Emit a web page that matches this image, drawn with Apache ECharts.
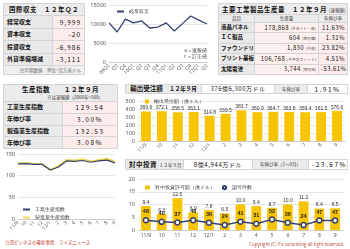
<!DOCTYPE html>
<html>
<head>
<meta charset="utf-8">
<script src="https://cdn.jsdelivr.net/npm/echarts@6/dist/echarts.min.js"></script>
<style>
  body { margin: 0; width: 350px; height: 249px; background: #fff; position: relative; overflow: hidden;
         font-family: "Noto Sans CJK JP", sans-serif; color: #111; }
  .box { position: absolute; }
  table { border-collapse: collapse; width: 100%; height: 100%; table-layout: fixed; }
  td { border: 1px solid #d4d4d4; padding: 0 3px; font-size: 6px; white-space: nowrap; overflow: hidden; line-height: 1; }
  .ttl { background: #ebebeb; font-weight: bold; text-align: center; font-size: 6.5px; letter-spacing: 0.5px; }
  .lbl { background: #e9e9e9; font-weight: bold; }
  .val { background: #fcecec; text-align: right; letter-spacing: 1px; font-size: 6.5px; }
  .sub { font-size: 4.5px; font-weight: normal; letter-spacing: 0; color: #333; }
  .note { background: #efefef; text-align: right; font-size: 4.5px; color: #666; }
  .chart { position: absolute; }
  .foot { position: absolute; font-size: 4.5px; color: #c0392b; white-space: nowrap; }
  #prodTable .val { letter-spacing: 0.4px; font-size: 6px; padding: 0 2px; }
</style>
</head>
<body>

<div class="box" style="left:3px;top:3px;width:82px;height:72px"><table id="bopTable"></table></div>
<div id="bopChart" class="chart" style="left:86px;top:0;width:130px;height:82px"></div>
<div class="box" style="left:218px;top:3px;width:130px;height:72px"><table id="prodTable"></table></div>
<div class="box" style="left:3px;top:84px;width:115px;height:65px"><table id="idxTable"></table></div>
<div id="idxChart" class="chart" style="left:0;top:148px;width:120px;height:90px"></div>
<div class="box" style="left:125px;top:84px;width:223px;height:10px"><table id="exportHead"></table></div>
<div id="exportChart" class="chart" style="left:120px;top:94px;width:230px;height:62px"></div>
<div class="box" style="left:125px;top:159px;width:223px;height:11px"><table id="investHead"></table></div>
<div id="investChart" class="chart" style="left:120px;top:171px;width:230px;height:78px"></div>
<div class="foot" style="left:5px;top:239px">台湾ビジネスの最新事情　ワイズニュース</div>
<div class="foot" style="right:6px;top:241px;color:#b5473a">Copyright (C) Y's consulting all right reserved.</div>

<script>
// 国際収支 table
const bopLabels = ['経常収支', '資本収支', '投資収支', '外貨準備増減'];
const bopValues = ['9,999', '-20', '-6,986', '-3,111'];

// 経常収支 by quarter
const bopQuarters = ['09Q2', 'Q3', 'Q4', '10Q1', 'Q2', 'Q3', 'Q4', '11Q1', 'Q2', 'Q3', 'Q4', '12Q1', 'Q2'];
const currentAccount = [10300, 7900, 11300, 10300, 10800, 8950, 9200, 10300, 8150, 10100, 12100, 11000, 9999];

// 主要工業製品生産量
const prodItems = ['液晶パネル', 'ＩＣ製品', 'ファウンドリー', 'プリント基板', '太陽電池'];
const prodVolumes = ['178,868', '604', '1,830', '106,768', '3,744'];
const prodUnits = ['(千セット・枚)', '(百万個)', '(千枚)', '(千平方フィート)', '(百万W)'];
const prodGrowth = ['11.63%', '1.31%', '23.82%', '4.51%', '-53.61%'];

// 生産指数
const idxLabels = ['工業生産指数', '年伸び率', '製造業生産指数', '年伸び率'];
const idxValues = ['129.54', '3.00%', '132.53', '3.08%'];

const months = ['11/9', '10', '11', '12', '12/1', '2', '3', '4', '5', '6', '7', '8', '9'];
const industrialIdx = [127, 128, 126, 126, 113, 120, 134, 133, 135, 131, 134, 136, 129.54];
const manufacturingIdx = [128, 130, 127, 127, 113, 122, 136, 135, 138, 133, 136, 139, 132.53];

// 輸出受注額 (億ドル)
const exportOrders = [369.6, 372.1, 358.5, 363.1, 314.8, 339.5, 383.7, 360.9, 364.7, 363.8, 359.4, 361.5, 376.6];

// 対中投資
const investAmount = [9.4, 6.3, 12.5, 6.9, 7.8, 6.5, 10.0, 9.4, 8.7, 10.0, 11.2, 8.4, 8.5];
const investCount = [48, 40, 37, 48, 36, 24, 41, 31, 52, 36, 24, 47, 47];

const navy = '#34406e';
const gold = '#f6c400';

// ---- tables ----
function rowsHtml(labels, values) {
  return labels.map((l, i) => `<tr><td class="lbl">${l}</td><td class="val">${values[i]}</td></tr>`).join('');
}

document.getElementById('bopTable').innerHTML =
  '<colgroup><col style="width:49px"><col></colgroup>' +
  '<tr style="height:12px"><td class="ttl" colspan="2">国際収支　１２年Ｑ２</td></tr>' +
  rowsHtml(bopLabels, bopValues) +
  '<tr style="height:9px"><td class="note" colspan="2">四半期数値　単位=百万米ドル</td></tr>';

document.getElementById('prodTable').innerHTML =
  '<colgroup><col style="width:36px"><col style="width:64px"><col></colgroup>' +
  '<tr style="height:11px"><td class="ttl" colspan="3">主要工業製品生産量　１２年９月 <span class="sub">(速報値)</span></td></tr>' +
  '<tr style="height:8px"><td class="ttl sub">品目</td><td class="ttl sub">生産量</td><td class="ttl sub">年伸び率</td></tr>' +
  prodItems.map((p, i) =>
    `<tr><td class="lbl" style="font-size:5.5px;padding:0 2px">${p}</td>` +
    `<td class="val" style="background:#fff0f0">${prodVolumes[i]} <span class="sub" style="font-size:3.8px">${prodUnits[i]}</span></td>` +
    `<td class="val">${prodGrowth[i]}</td></tr>`).join('');

document.getElementById('idxTable').innerHTML =
  '<colgroup><col style="width:59px"><col></colgroup>' +
  '<tr style="height:9px"><td class="ttl" colspan="2" style="border-bottom:none">生産指数　　１２年９月</td></tr>' +
  '<tr style="height:8px"><td class="ttl sub" colspan="2" style="border-top:none;text-align:right;padding-right:14px">※は速報値（2006年=100）</td></tr>' +
  idxLabels.map((l, i) => `<tr><td class="lbl">${l}</td><td class="val" style="text-align:center;letter-spacing:1.5px">${idxValues[i]}</td></tr>`).join('');

document.getElementById('exportHead').innerHTML =
  '<colgroup><col style="width:76px"><col style="width:73px"><col style="width:33px"><col></colgroup>' +
  '<tr><td class="ttl" style="letter-spacing:0;padding:0 1px">輸出受注額　<span style="font-size:5.5px">１２年９月</span></td>' +
  '<td class="val" style="text-align:center;background:#fff;letter-spacing:0.5px;font-size:6px;padding:0 1px">376億6,300万ドル</td>' +
  '<td class="ttl sub">年伸び率</td><td class="val" style="text-align:center;background:#fff;letter-spacing:1.5px">1.91%</td></tr>';

document.getElementById('investHead').innerHTML =
  '<colgroup><col style="width:58px"><col style="width:69px"><col style="width:56px"><col></colgroup>' +
  '<tr><td class="ttl">対中投資 <span class="sub">１２年９月</span></td>' +
  '<td class="val" style="text-align:center;background:#fff;letter-spacing:0.6px;font-size:6px;padding:0 1px">8億4,944万ドル</td>' +
  '<td class="ttl sub">年伸び率（1～9月）</td><td class="val" style="text-align:center;background:#fff;letter-spacing:1.5px">-23.67%</td></tr>';

// ---- charts ----
const axisLabelStyle = { fontSize: 5.5, color: '#555', fontFamily: 'Noto Sans' };
const splitStyle = { lineStyle: { color: '#e6e6e6', width: 1 } };

const bopChart = echarts.init(document.getElementById('bopChart'));
bopChart.setOption({
  animation: false,
  grid: { left: 23, right: 9, top: 5, bottom: 20 },
  legend: {
    data: ['経常収支'], left: 26, top: 4, itemWidth: 7, itemHeight: 2, itemGap: 2,
    icon: 'rect', textStyle: { fontSize: 4.5, color: '#333' },
  },
  xAxis: {
    type: 'category', boundaryGap: false, data: bopQuarters,
    axisLabel: { ...axisLabelStyle, fontSize: 5, rotate: 45, interval: 0, margin: 3 },
    axisLine: { lineStyle: { color: '#ccc' } }, axisTick: { show: false },
  },
  yAxis: {
    type: 'value', min: 0, max: 15000, interval: 5000,
    axisLabel: { ...axisLabelStyle, margin: 3, formatter: v => String(v) }, splitLine: splitStyle,
  },
  series: [{
    name: '経常収支', type: 'line', data: currentAccount, symbol: 'none',
    lineStyle: { color: navy, width: 1.3 }, itemStyle: { color: navy },
  }],
  graphic: [
    { type: 'text', right: 9, top: 48, style: { text: 'o＝速報値', fontSize: 4.5, fill: '#333' } },
    { type: 'text', right: 9, top: 54, style: { text: 'r ＝訂正値', fontSize: 4.5, fill: '#333' } },
  ],
});

const idxChart = echarts.init(document.getElementById('idxChart'));
idxChart.setOption({
  animation: false,
  grid: { left: 18, right: 5, top: 6, bottom: 19 },
  legend: {
    orient: 'vertical', left: 18, top: 54, itemWidth: 7, itemHeight: 2, itemGap: 3, icon: 'rect',
    textStyle: { fontSize: 5, color: '#333' }, data: ['工業生産指数', '製造業生産指数'],
  },
  xAxis: {
    type: 'category', boundaryGap: false, data: months,
    axisLabel: { ...axisLabelStyle, fontSize: 5, rotate: 45, interval: 0, margin: 3 },
    axisLine: { lineStyle: { color: '#ccc' } }, axisTick: { show: false },
  },
  yAxis: {
    type: 'value', min: 0, max: 150, interval: 50,
    axisLabel: { ...axisLabelStyle, margin: 3 }, splitLine: splitStyle,
  },
  series: [
    { name: '製造業生産指数', type: 'line', data: manufacturingIdx, symbol: 'none',
      lineStyle: { color: '#ecd95a', width: 2 }, itemStyle: { color: '#ecd95a' } },
    { name: '工業生産指数', type: 'line', data: industrialIdx, symbol: 'none',
      lineStyle: { color: navy, width: 1.2 }, itemStyle: { color: navy } },
  ],
});

const exportChart = echarts.init(document.getElementById('exportChart'));
exportChart.setOption({
  animation: false,
  grid: { left: 18, right: 5, top: 7, bottom: 15 },
  legend: {
    data: ['輸出受注額（億ドル）'], left: 20, top: 0, itemWidth: 4, itemHeight: 4, icon: 'rect',
    textStyle: { fontSize: 4.5, color: '#333' },
  },
  xAxis: {
    type: 'category', data: months,
    axisLabel: { ...axisLabelStyle, fontSize: 5, rotate: 45, interval: 0, margin: 3 },
    axisLine: { lineStyle: { color: '#ccc' } }, axisTick: { show: false },
  },
  yAxis: {
    type: 'value', min: 0, max: 500, interval: 100,
    axisLabel: { ...axisLabelStyle, margin: 3 }, splitLine: splitStyle,
  },
  series: [{
    name: '輸出受注額（億ドル）', type: 'bar', data: exportOrders, barWidth: '62%',
    itemStyle: { color: gold },
    label: { show: true, position: 'top', distance: 1, fontSize: 5, color: '#333',
             formatter: p => p.value.toFixed(1) },
  }],
});

const investChart = echarts.init(document.getElementById('investChart'));
investChart.setOption({
  animation: false,
  grid: { left: 18, right: 7, top: 8, bottom: 19 },
  legend: {
    data: ['対中投資許可額（億ドル）', '認可件数'], left: 20, top: 9, itemWidth: 5, itemHeight: 4, itemGap: 6,
    textStyle: { fontSize: 4.5, color: '#333' },
  },
  xAxis: {
    type: 'category', data: months,
    axisLabel: { ...axisLabelStyle, fontSize: 5, interval: 0, margin: 3 },
    axisLine: { lineStyle: { color: '#ccc' } }, axisTick: { show: false },
  },
  yAxis: [
    { type: 'value', min: 0, max: 20, interval: 5,
      axisLabel: { ...axisLabelStyle, margin: 3 }, splitLine: splitStyle },
    { type: 'value', min: 0, max: 250, show: false },
  ],
  series: [
    { name: '対中投資許可額（億ドル）', type: 'bar', data: investAmount, barWidth: '62%',
      itemStyle: { color: gold }, legendIcon: 'rect',
      label: { show: true, position: 'top', distance: 1, fontSize: 5, color: '#333',
               formatter: p => p.value.toFixed(1) } },
    { name: '認可件数', type: 'line', yAxisIndex: 1, data: investCount,
      symbol: 'circle', symbolSize: 5, legendIcon: 'circle',
      lineStyle: { color: navy, width: 1.5 },
      itemStyle: { color: '#fff', borderColor: navy, borderWidth: 1.5 },
      label: { show: true, position: 'top', distance: 2, fontSize: 5.5, fontWeight: 'bold', color: '#222' } },
  ],
});
</script>
</body>
</html>
